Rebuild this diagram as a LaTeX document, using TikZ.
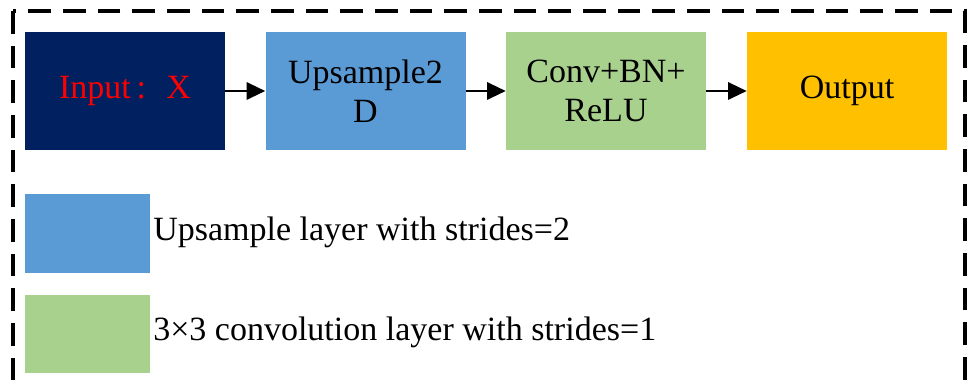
\documentclass[tikz,border=0pt]{standalone}
\usepackage{fontspec}
\setmainfont{Liberation Serif}
\usetikzlibrary{arrows.meta}
\definecolor{navyin}{HTML}{002060}
\definecolor{upblue}{HTML}{5B9BD5}
\definecolor{convgreen}{HTML}{A9D18E}
\definecolor{outgold}{HTML}{FFC000}
\tikzset{
  block/.style={rectangle,minimum width=150pt,minimum height=89pt,inner sep=0pt,align=center,font=\fontsize{25.5}{29}\selectfont},
  keybox/.style={rectangle,minimum width=94pt,minimum height=59pt,inner sep=0pt},
  keytext/.style={anchor=west,inner sep=0pt,font=\fontsize{25.5}{29}\selectfont},
  flow/.style={-{Triangle[length=14pt,width=13pt]},line width=1.6pt}
}
\begin{document}
\begin{tikzpicture}[x=0.75pt,y=-0.75pt]
    \useasboundingbox (0,0) rectangle (970,391);
    \clip (0,0) rectangle (970,391);
    \draw[line width=2.3pt,dash pattern=on 17pt off 9pt] (13,11) rectangle (965,430);
    \node[block,fill=navyin,text=red] (In) at (125,91){Input\,:\hspace{0.6em}X};
    \node[block,fill=upblue] (Up) at (365.5,91){Upsample2\\D};
    \node[block,fill=convgreen] (Cv) at (606,91){Conv+BN+\\ReLU};
    \node[block,fill=outgold] (Out) at (847,91){Output};
    \draw[flow] (In) to (Up);
    \draw[flow] (Up) to (Cv);
    \draw[flow] (Cv) to (Out);
    \node[keybox,fill=upblue] (K1) at (87.5,233.5){};
    \node[keybox,fill=convgreen] (K2) at (87.5,334){};
    \node[keytext] (T1) at (153,232){Upsample layer with strides=2};
    \node[keytext] (T2) at (153,332){3×3 convolution layer with strides=1};
\end{tikzpicture}
\end{document}
